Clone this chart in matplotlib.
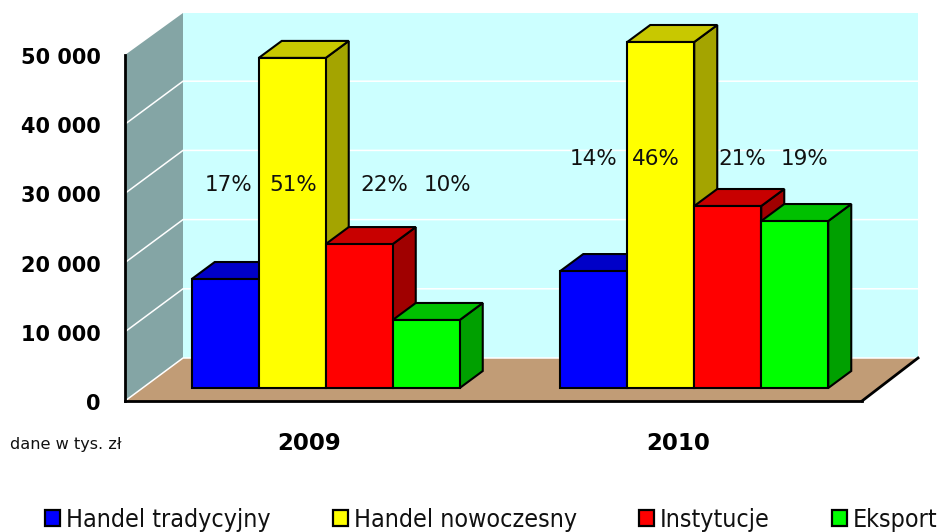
import matplotlib
matplotlib.use("Agg")
import matplotlib.pyplot as plt
from matplotlib.patches import Polygon, Patch
from matplotlib.transforms import ScaledTranslation
from matplotlib.font_manager import FontProperties

# ---- data ----
years = ["2009", "2010"]
series = ["Handel tradycyjny", "Handel nowoczesny", "Instytucje", "Eksport"]
values_2009 = [15750, 47700, 20800, 9830]
values_2010 = [16900, 50000, 26300, 24130]
shares_2009 = ["17%", "51%", "22%", "10%"]
shares_2010 = ["14%", "46%", "21%", "19%"]
yticks = [0, 10000, 20000, 30000, 40000, 50000]
ytick_labels = ["0", "10 000", "20 000", "30 000", "40 000", "50 000"]

# ---- style ----
front_cols = ["#0000FF", "#FFFF00", "#FF0000", "#00FF00"]
top_cols = ["#0000C8", "#C8C800", "#C80000", "#00C000"]
side_cols = ["#0000A0", "#A4A400", "#A00000", "#00A000"]
WALL, BACK, FLOOR = "#84A5A5", "#CCFFFF", "#C19C76"

W, H = 947, 532
L, R, B, T = 125, 862, 401, 55
fig = plt.figure(figsize=(W / 100, H / 100), dpi=100)
ax = fig.add_axes([L / W, 1 - B / H, (R - L) / W, (B - T) / H])
ax.set_xlim(-0.5, 1.5)
ax.set_ylim(0, 50000)
ax.patch.set_alpha(0)
px_x = 2 / (R - L)          # data units per pixel, x
px_y = 50000 / (B - T)      # data units per pixel, y
DX, DY = 58 * px_x, 43 * px_y
xa, xb = -0.5, 1.5
xback = xb + 56 * px_x
ymax = 50000


def poly(pts, fc, ec="none", lw=0, z=1):
    ax.add_patch(Polygon(pts, closed=True, facecolor=fc, edgecolor=ec, linewidth=lw,
                         zorder=z, clip_on=False, joinstyle="miter"))


# back wall, side wall, floor
poly([(xa + DX, DY), (xback, DY), (xback, ymax + DY - 1 * px_y), (xa + DX, ymax + DY - 1 * px_y)], BACK)
poly([(xa, 0), (xa + DX, DY), (xa + DX, ymax + DY - 1 * px_y), (xa, ymax)], WALL)
poly([(xa, 0), (xb, 0), (xback, DY), (xa + DX, DY)], FLOOR)

for v in yticks:
    if v < ymax:
        ax.plot([xa, xa + DX, xback], [v, v + DY, v + DY], color="white", lw=1.1,
                zorder=2, clip_on=False, solid_joinstyle="miter")
ax.plot([xb, xback], [0, DY], color="black", lw=2.0, zorder=3, clip_on=False)

# bars
bw = 67 * px_x
off_x, off_y = 16.5 * px_x, 13 * px_y
bdx, bdy = 23 * px_x, 17 * px_y
elw = 1.5
for g, vals in enumerate([values_2009, values_2010]):
    for i, v in enumerate(vals):
        x0 = g + off_x + (i - 2) * bw
        x1 = x0 + bw
        y0 = off_y
        y1 = off_y + v
        z = 5 + i
        poly([(x1, y0), (x1 + bdx, y0 + bdy), (x1 + bdx, y1 + bdy), (x1, y1)], side_cols[i], "black", elw, z)
        poly([(x0, y1), (x1, y1), (x1 + bdx, y1 + bdy), (x0 + bdx, y1 + bdy)], top_cols[i], "black", elw, z)
        poly([(x0, y0), (x1, y0), (x1, y1), (x0, y1)], front_cols[i], "black", elw, z)

# share labels (text anchored relative to category, in pixels)
label_px = [[229, 293, 384, 447], [594, 656, 742, 805]]
label_py = [185, 159]
for g, shares in enumerate([shares_2009, shares_2010]):
    for s, xp in zip(shares, label_px[g]):
        ax.text(-0.5 + (xp - L) * px_x, (B - label_py[g]) * px_y, s, ha="center", va="center",
                fontsize=15.5, color="#111111", zorder=20, clip_on=False)

# axes
for s in ["top", "right"]:
    ax.spines[s].set_visible(False)
for s in ["left", "bottom"]:
    ax.spines[s].set_linewidth(2.0)
    ax.spines[s].set_color("black")
    ax.spines[s].set_zorder(4)
ax.set_yticks(yticks)
ax.set_yticklabels(ytick_labels, fontsize=15, fontweight="bold")
ax.set_xticks([0, 1])
ax.set_xticklabels(years, fontsize=16.5, fontweight="bold")
ax.tick_params(axis="y", length=0, pad=17.5)
ax.tick_params(axis="x", length=0, pad=22.5)
shift = ScaledTranslation(0, -1 / 100, fig.dpi_scale_trans)
for lab in ax.get_yticklabels():
    lab.set_transform(lab.get_transform() + shift)

fig.text(10 / W, 1 - 444 / H, "dane w tys. zł", fontsize=11.6, ha="left", va="center", color="#111111")

handles = [Patch(facecolor=c, edgecolor="black", linewidth=1.6) for c in front_cols]
leg_font = FontProperties(family="DejaVu Sans", stretch="condensed", size=17.9)
leg = fig.legend(handles, series, ncol=4, loc="lower left", bbox_to_anchor=(45 / W, 0.0),
                 frameon=False, prop=leg_font, handlelength=0.62, handleheight=0.62,
                 handletextpad=0.22, columnspacing=2.5, borderpad=0, borderaxespad=0,
                 labelcolor="#111111")
fig.savefig("out.png", dpi=100)
